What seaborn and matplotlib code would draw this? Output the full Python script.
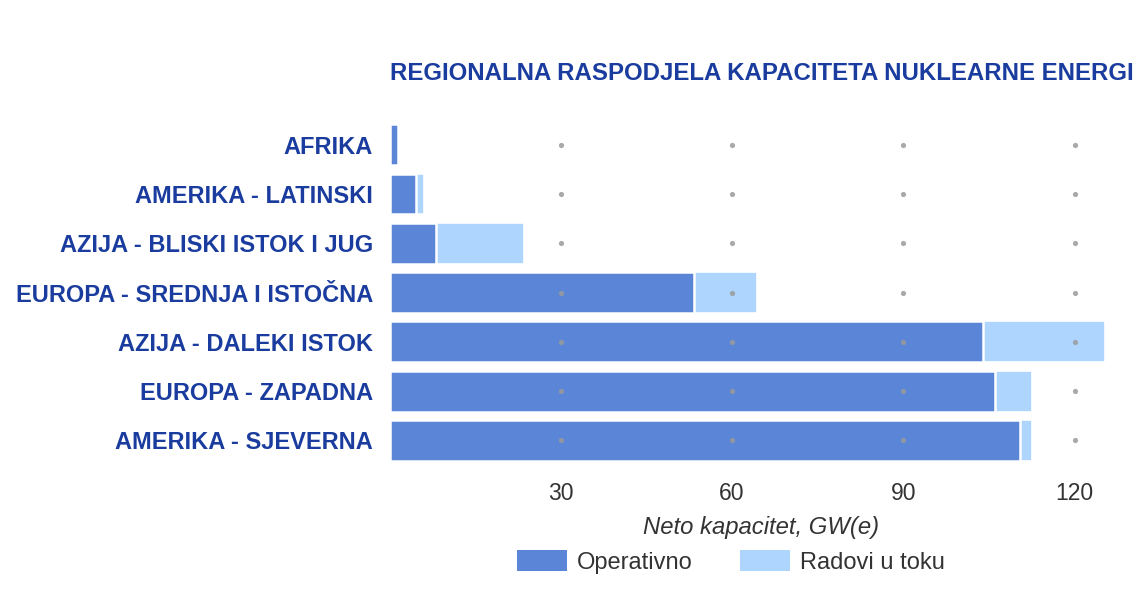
import matplotlib
matplotlib.use("Agg")
import matplotlib.pyplot as plt
import seaborn as sns
import pandas as pd
from matplotlib.patches import Patch

# podaci (ocitano sa slike)
regije = ["AFRIKA", "AMERIKA - LATINSKI", "AZIJA - BLISKI ISTOK I JUG",
          "EUROPA - SREDNJA I ISTOČNA", "AZIJA - DALEKI ISTOK",
          "EUROPA - ZAPADNA", "AMERIKA - SJEVERNA"]
operativno = [1.4, 4.6, 8.1, 53.4, 103.9, 106.0, 110.5]
u_izgradnji = [0.0, 1.4, 15.4, 10.9, 21.4, 6.6, 2.1]
x_ticks = [30, 60, 90, 120]

df = pd.DataFrame({"regija": regije, "operativno": operativno, "izgradnja": u_izgradnji})
df["ukupno"] = df["operativno"] + df["izgradnja"]

sns.set_theme(style="white")
plt.rcParams["font.family"] = ["Liberation Sans", "DejaVu Sans"]

c_op = "#5B85D6"
c_con = "#ADD5FD"
navy = "#1A3C9E"

fig = plt.figure(figsize=(11.46, 6.16), dpi=100)
ax = fig.add_axes([0.340, 0.245, 0.6475, 0.560])

# ukupno (svijetlo) pa operativno (tamno) preko
sns.barplot(data=df, y="regija", x="ukupno", color=c_con, orient="h",
            width=0.83, edgecolor="white", linewidth=1.2, saturation=1, ax=ax)
sns.barplot(data=df, y="regija", x="operativno", color=c_op, orient="h",
            width=0.83, edgecolor="white", linewidth=1.8, saturation=1, ax=ax)

# tockasta mreza
for t in x_ticks:
    ax.scatter([t] * len(regije), range(len(regije)), marker="o", s=14,
               color="#9A9A9A", alpha=0.85, linewidths=0, zorder=5)

ax.set_xlim(0, 130)
ax.set_ylim(len(regije) - 0.5, -0.5)
ax.set_xticks(x_ticks)
ax.set_xticklabels([str(t) for t in x_ticks])
ax.tick_params(axis="x", length=0, labelsize=16.5, labelcolor="#333333", pad=12)
ax.tick_params(axis="y", length=0, labelsize=17, labelcolor=navy, pad=12)
for lbl in ax.get_yticklabels():
    lbl.set_fontweight("bold")
for s in ax.spines.values():
    s.set_visible(False)
ax.grid(False)

ax.set_ylabel("")
ax.set_xlabel("Neto kapacitet, GW(e)", fontsize=17.2, style="italic",
              color="#333333", labelpad=8)

ax.set_title("REGIONALNA RASPODJELA KAPACITETA NUKLEARNE ENERGI",
             loc="left", fontsize=17.3, fontweight="bold", color=navy, pad=29)

handles = [Patch(facecolor=c_op, edgecolor="none", label="Operativno"),
           Patch(facecolor=c_con, edgecolor="none", label="Radovi u toku")]
fig.legend(handles=handles, loc="center", bbox_to_anchor=(0.638, 0.088), ncol=2,
           frameon=False, fontsize=17, handlelength=2.1, handleheight=1.0,
           handletextpad=0.45, columnspacing=2.0, labelcolor="#333333")

fig.savefig("out.png", dpi=100)
